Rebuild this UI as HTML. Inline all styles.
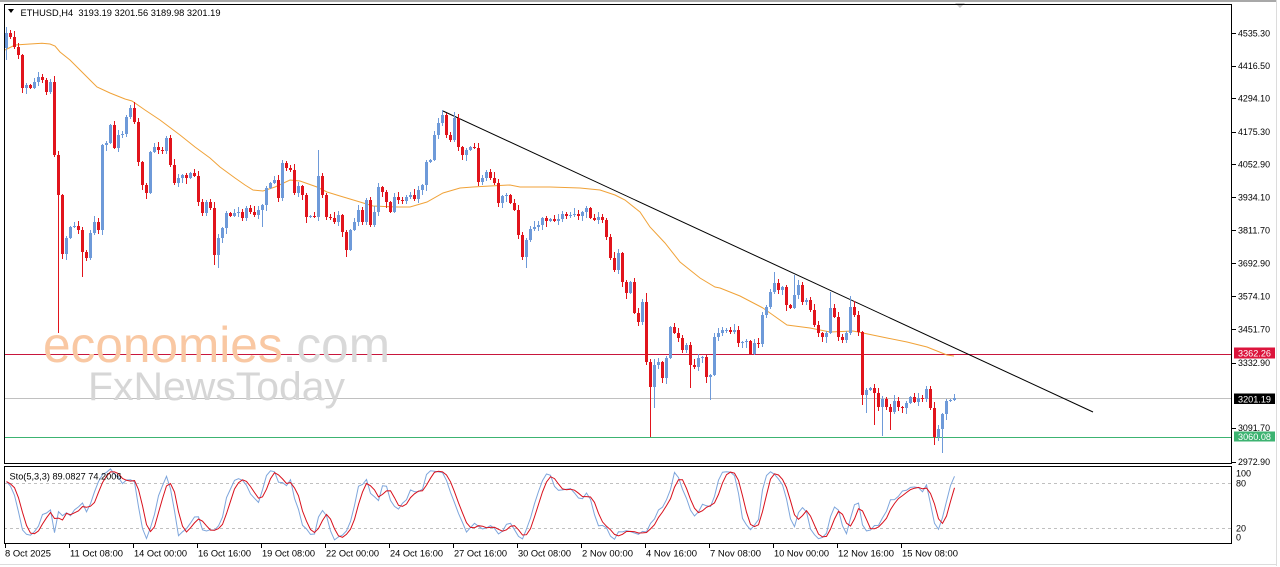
<!DOCTYPE html>
<html><head><meta charset="utf-8"><style>
html,body{margin:0;padding:0;background:#fff;}
svg{display:block;font-family:"Liberation Sans",sans-serif;}
</style></head><body>
<svg id="s" width="1280" height="567" viewBox="0 0 1280 567" xmlns="http://www.w3.org/2000/svg">
<rect x="0" y="0" width="1280" height="567" fill="#fff"/>
<rect x="0" y="0" width="1277" height="2" fill="#a8a8a8"/>
<rect x="1276" y="0" width="1" height="566" fill="#dcdcdc"/>
<rect x="0" y="564" width="1277" height="1" fill="#dcdcdc"/>
<polygon points="955,3 965,3 960,8" fill="#c8c8c8"/>
<g shape-rendering="crispEdges">
<line x1="4" y1="483.5" x2="1232" y2="483.5" stroke="#c0c0c0" stroke-dasharray="3,3"/>
<line x1="4" y1="528.5" x2="1232" y2="528.5" stroke="#c0c0c0" stroke-dasharray="3,3"/>
<line x1="4" y1="354.5" x2="1232" y2="354.5" stroke="#c8163c"/>
<line x1="4" y1="398.5" x2="1232" y2="398.5" stroke="#c0c0c0"/>
<line x1="4" y1="437.5" x2="1232" y2="437.5" stroke="#3cb371"/>
</g>
<text x="43" y="362" font-size="50" textLength="347" lengthAdjust="spacingAndGlyphs"><tspan fill="#f9c8a3">economies</tspan><tspan fill="#d9d9d9">.com</tspan></text>
<text x="88" y="400" font-size="40" fill="#d6d6d6" textLength="257" lengthAdjust="spacingAndGlyphs">FxNewsToday</text>
<polyline id="ma" fill="none" stroke="#f0a238" stroke-width="1" points=""/>
<line x1="443" y1="111" x2="1093" y2="412" stroke="#000" stroke-width="1"/>
<g id="candles" shape-rendering="crispEdges"></g>
<g id="stoch"></g>
<g shape-rendering="crispEdges" fill="none" stroke="#000">
<rect x="4.5" y="4.5" width="1227" height="459"/>
<rect x="4.5" y="466.5" width="1227" height="77"/>
</g>
<polygon points="8,9 14,9 11,13" fill="#000"/>
<text x="20.5" y="16" font-size="9.5" fill="#000" textLength="200" lengthAdjust="spacingAndGlyphs" style="white-space:pre">ETHUSD,H4  3193.19 3201.56 3189.98 3201.19</text>
<text x="9.5" y="479.5" font-size="9.5" fill="#000" textLength="112" lengthAdjust="spacingAndGlyphs">Sto(5,3,3) 89.0827 74.2006</text>
<g id="axis" font-size="9" fill="#000"></g>
<g font-size="9" fill="#000">
<text x="1236" y="476.5">100</text>
<text x="1236" y="486.5">80</text>
<text x="1236" y="531.5">20</text>
<text x="1236" y="540.5">0</text>
</g>
<g id="xaxis" font-size="9.3" fill="#000"></g>
<rect x="1234" y="347.5" width="41" height="11" fill="#dc143c"/>
<text x="1238" y="356.5" font-size="9" fill="#fff" textLength="33" lengthAdjust="spacingAndGlyphs">3362.26</text>
<rect x="1234" y="393.5" width="41" height="10.5" fill="#000"/>
<text x="1238" y="402.5" font-size="9" fill="#fff" textLength="33" lengthAdjust="spacingAndGlyphs">3201.19</text>
<rect x="1234" y="431.5" width="41" height="10" fill="#3cb371"/>
<text x="1238" y="440.2" font-size="9" fill="#fff" textLength="33" lengthAdjust="spacingAndGlyphs">3060.08</text>
</svg>
<script>
(function(){
var NS="http://www.w3.org/2000/svg";
var C=[
33,37,47,55,88,85,88,82,77,80,
92,82,155,195,254,238,227,226,230,252,
258,233,222,230,145,143,125,148,135,134,
117,108,122,162,185,193,152,147,150,151,
138,165,183,178,175,178,173,176,202,213,
202,208,255,238,228,213,216,213,212,218,
208,212,215,210,205,188,183,180,198,163,
168,170,193,186,195,217,216,217,176,195,
217,218,222,215,232,250,230,222,210,222,
200,225,212,187,192,202,212,197,200,201,
197,195,199,190,185,162,160,135,123,115,
135,140,118,147,155,150,147,148,182,178,
172,178,183,203,196,195,203,210,235,257,
240,229,227,225,218,221,219,221,219,214,
216,215,214,216,212,208,218,220,217,220,
237,258,270,253,282,293,282,313,322,302,
362,387,365,362,378,358,327,333,338,350,
345,365,367,358,357,377,375,337,333,330,
330,332,330,343,342,341,354,343,344,315,
307,292,283,290,287,305,308,295,285,302,
300,310,325,333,337,333,308,317,337,340,
333,307,315,332,395,390,388,393,407,399,
407,412,401,407,408,403,397,402,398,399,
389,408,437,429,414,401,400,398];
var hiO={0:27,78:150,109:110,160:293,192:272,197:275,199:282,206:292,211:296,230:386};
var loO={0:60,13:333,19:277,52:265,53:268,64:227,85:257,130:268,161:437,162:408,171:388,176:400,214:405,215:413,217:425,219:436,221:430,232:445,234:453};
var wu=[2,4,1,3,6,2,5,3,1,4], wl=[3,1,5,2,4,6,2,3,1,4];
var BLUE="#6e9ad9", RED="#e1141c";
var s="", H=[], L=[];
for(var i=0;i<C.length;i++){
  var o=i?C[i-1]:48, c=C[i];
  var t=Math.min(o,c), b=Math.max(o,c);
  var hi=(hiO[i]!==undefined)?hiO[i]:t-wu[(i*7)%10];
  var lo=(loO[i]!==undefined)?loO[i]:b+wl[(i*3)%10];
  H.push(hi);L.push(lo);
  var col=(c<o)?BLUE:(c>o?RED:BLUE);
  var x=6+4*i;
  s+='<rect x="'+x+'" y="'+hi+'" width="1" height="'+(lo-hi)+'" fill="'+col+'"/>';
  s+='<rect x="'+(x-1)+'" y="'+t+'" width="3" height="'+Math.max(1,b-t)+'" fill="'+col+'"/>';
}
document.getElementById("candles").innerHTML=s;
// moving average
var ma=[[5,50],[15,45],[30,44],[42,43.3],[50,44],[55,46],[60,52],[70,60],[80,70],[90,80],[97,87],[110,93],[125,99],[132,101],[145,110],[160,120],[180,135],[195,147],[210,158],[220,167],[235,178],[245,185],[253,190],[263,191],[275,187],[290,180],[300,181],[317,187],[327,192],[340,196],[360,202],[373,206],[397,207],[410,207],[427,202],[443,193],[460,188],[473,187],[490,186],[510,185],[520,187],[550,187],[580,188],[600,190],[615,195],[625,200],[640,212],[650,227],[665,243],[680,262],[700,278],[715,287],[720,288],[740,296],[763,308],[787,325],[810,328],[830,332],[853,331],[863,333],[887,338],[907,342],[927,347],[947,355],[954,356]];
document.getElementById("ma").setAttribute("points",ma.map(function(p){return p[0]+","+p[1];}).join(" "));
// stochastic 5,3,3
var num=[],den=[],K=[],D=[];
for(var i=0;i<C.length;i++){
  var hh=-1e9,ll=1e9;
  for(var j=Math.max(0,i-4);j<=i;j++){hh=Math.max(hh,-H[j]);ll=Math.min(ll,-L[j]);}
  num.push(-C[i]-ll);den.push(hh-ll);
  var sn=0,sd=0;
  for(var j=Math.max(0,i-2);j<=i;j++){sn+=num[j];sd+=den[j];}
  K.push(sd>0?sn/sd*100:50);
  var sk=0,n=0;
  for(var j=Math.max(0,i-2);j<=i;j++){sk+=K[j];n++;}
  D.push(sk/n);
}
function pl(arr,col){
  var pts=arr.map(function(v,i){return (6.5+4*i)+","+(543-0.75*v).toFixed(1);}).join(" ");
  return '<polyline fill="none" stroke="'+col+'" stroke-width="1" points="'+pts+'"/>';
}
document.getElementById("stoch").innerHTML=pl(K,"#7ea6dc")+pl(D,"#d8101c");
// price axis
var pa=[["4535.30",33.3],["4416.50",65.7],["4294.10",98.3],["4175.30",131.7],["4052.90",164.3],["3934.10",197.3],["3811.70",230],["3692.90",263.3],["3574.10",296],["3451.70",329.3],["3332.90",362.7],["3091.70",427.7],["2972.90",461.7]];
var a="";
pa.forEach(function(p){
  a+='<rect x="1232" y="'+Math.round(p[1])+'" width="4" height="1" fill="#000"/>';
  a+='<text x="1238" y="'+(p[1]+3.3).toFixed(1)+'" textLength="32" lengthAdjust="spacingAndGlyphs">'+p[0]+'</text>';
});
document.getElementById("axis").innerHTML=a;
var ta=[["8 Oct 2025",5,46],["11 Oct 08:00",69,53],["14 Oct 00:00",133,53],["16 Oct 16:00",197,53],["19 Oct 08:00",261,53],["22 Oct 00:00",325,53],["24 Oct 16:00",389,53],["27 Oct 16:00",453,53],["30 Oct 08:00",517,53],["2 Nov 00:00",581,51],["4 Nov 16:00",645,51],["7 Nov 08:00",709,51],["10 Nov 00:00",773,55],["12 Nov 16:00",837,56],["15 Nov 08:00",901,56]];
var t="";
ta.forEach(function(p){
  t+='<rect x="'+p[1]+'" y="544" width="1" height="4" fill="#000"/>';
  t+='<text x="'+(p[1]+(p[1]===5?0:1))+'" y="556.5" textLength="'+p[2]+'" lengthAdjust="spacingAndGlyphs">'+p[0]+'</text>';
});
document.getElementById("xaxis").innerHTML=t;
})();
</script>
</body></html>
